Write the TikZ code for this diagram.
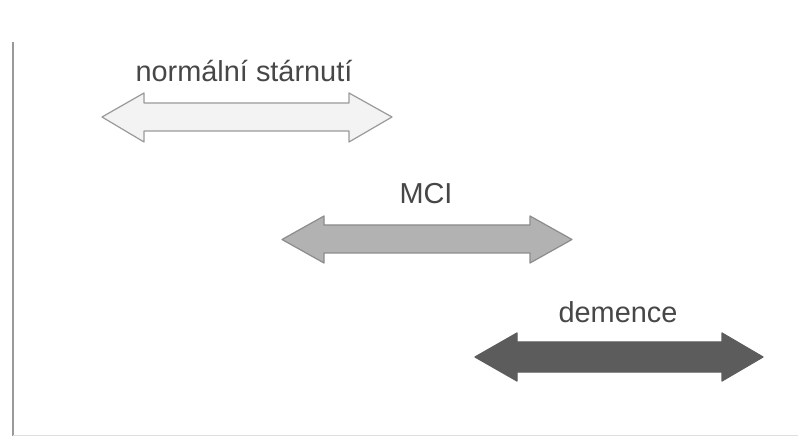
\documentclass[tikz,border=0pt]{standalone}
\usepackage{fontspec}
\setmainfont{Liberation Sans}

\definecolor{popis}{HTML}{474747}
\definecolor{svetla}{HTML}{F3F3F3}
\definecolor{svetlaokraj}{HTML}{9A9A9A}
\definecolor{stredni}{HTML}{B2B2B2}
\definecolor{stredniokraj}{HTML}{8C8C8C}
\definecolor{tmava}{HTML}{5C5C5C}

\begin{document}
\begin{tikzpicture}[x=1bp, y=-1bp, line join=round,
    sipka/.style={draw=#1, line width=1.2bp},
    popisek/.style={text=popis, font=\fontsize{29}{34}\selectfont, anchor=base, inner sep=0pt}]
    \useasboundingbox (0,0) rectangle (798,437);
    \fill[white] (0,0) rectangle (798,437);

    % 1. osy (svisla cara vlevo a slaba cara dole)
    \draw[gray!80, line width=1.5bp] (13,42) -- (13,436);
    \draw[gray!25, line width=1.5bp] (13,435.5) -- (798,435.5);

    % 2. normalni starnuti
    \draw[sipka=svetlaokraj, fill=svetla]
    (102,117) -- (144,93) -- (144,103) -- (349,103) -- (349,93) -- (392,117)
    -- (349,142) -- (349,131) -- (144,131) -- (144,142) -- cycle;
    \node[popisek] (normal) at (244,82) {normální stárnutí};

    % 3. MCI
    \draw[sipka=stredniokraj, fill=stredni]
    (282,239.5) -- (324,216) -- (324,225) -- (530,225) -- (530,216) -- (572,239.5)
    -- (530,263) -- (530,253) -- (324,253) -- (324,263) -- cycle;
    \node[popisek] (mci) at (426,204) {MCI};

    % 4. demence
    \draw[sipka=tmava, fill=tmava]
    (475,357) -- (517,333) -- (517,342) -- (722,342) -- (722,333) -- (763,357)
    -- (722,381) -- (722,372) -- (517,372) -- (517,381) -- cycle;
    \node[popisek] (demence) at (618,323) {demence};
\end{tikzpicture}
\end{document}
